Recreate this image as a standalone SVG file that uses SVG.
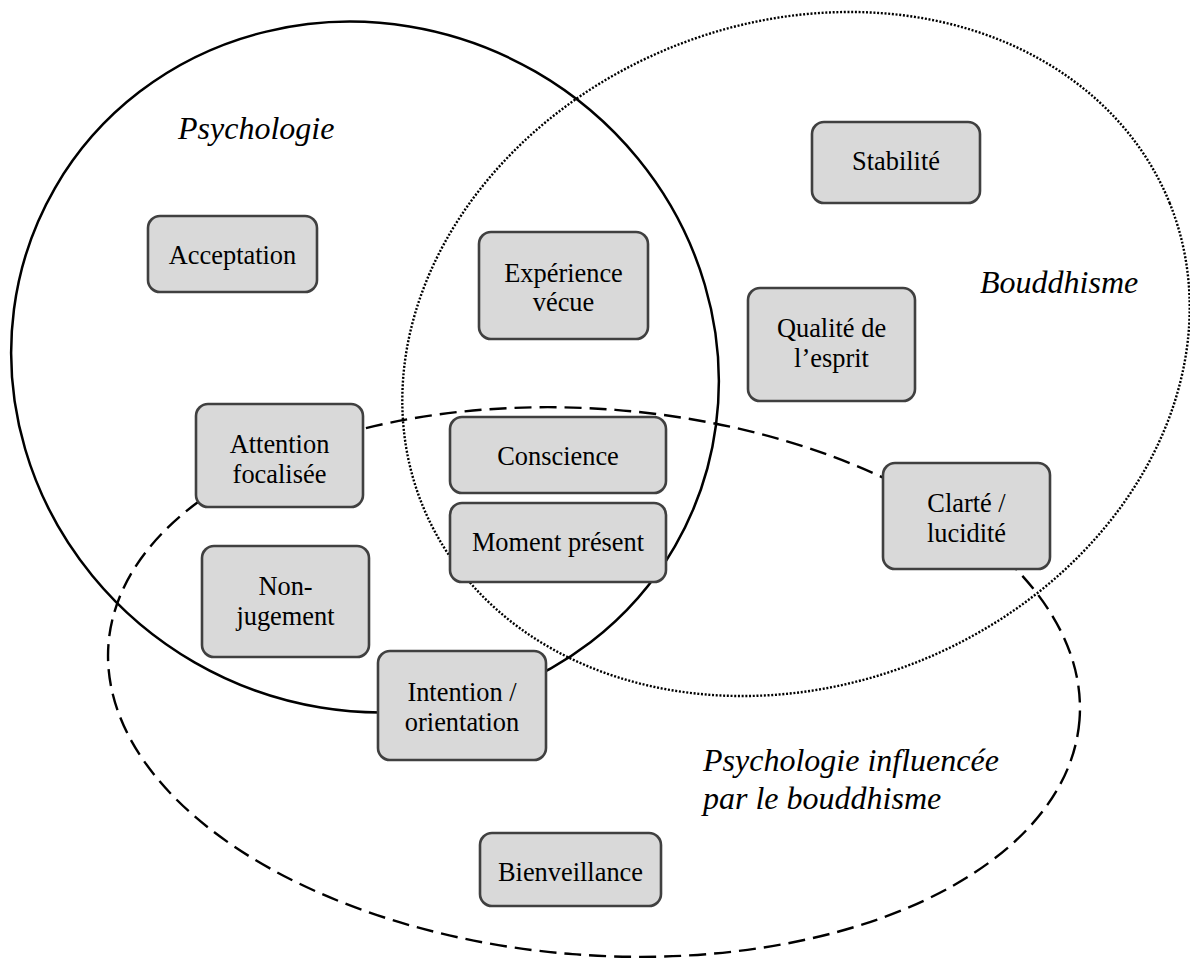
<svg xmlns="http://www.w3.org/2000/svg" width="1190" height="960" viewBox="0 0 1190 960">
<style>
.set{fill:none;stroke:#000}
.solid{stroke-width:2.5}
.dotted{stroke-width:2.4;stroke-dasharray:2 1.7}
.dashed{stroke-width:2.4;stroke-dasharray:17 8}
.box{fill:#d9d9d9;stroke:#404040;stroke-width:2.6}
.t{font-size:26.4px;fill:#000;text-anchor:middle}
.lbl{font-size:32px;font-style:italic;fill:#000}
</style>
<rect width="1190" height="960" fill="#fff"/>
<g id="sets">
<ellipse id="set-psychologie" class="set solid" cx="0" cy="0" rx="358" ry="341" transform="translate(365 367) rotate(30)"/>
<ellipse id="set-bouddhisme" class="set dotted" cx="0" cy="0" rx="403" ry="331" transform="translate(796 354) rotate(-22)"/>
<ellipse id="set-influencee" class="set dashed" cx="0" cy="0" rx="487" ry="273" transform="translate(594 682) rotate(4.5)"/>
</g>
<g id="connectors"></g>
<g font-family="'Liberation Serif', 'Times New Roman', 'DejaVu Serif', serif">
<g id="labels">
<text class="lbl" x="178" y="139">Psychologie</text>
<text class="lbl" x="980" y="293">Bouddhisme</text>
<text class="lbl" x="703" y="771">Psychologie influencée</text>
<text class="lbl" x="703" y="809">par le bouddhisme</text>
</g>
<g id="node-acceptation"><rect class="box" x="148" y="216" width="169" height="76" rx="12"/><text class="t" x="232.5" y="264">Acceptation</text></g>
<g id="node-experience"><rect class="box" x="479" y="232" width="169" height="107" rx="12"/><text class="t" x="563.5" y="282">Expérience</text><text class="t" x="563.5" y="311">vécue</text></g>
<g id="node-stabilite"><rect class="box" x="812" y="122" width="168" height="81" rx="12"/><text class="t" x="896" y="170">Stabilité</text></g>
<g id="node-qualite"><rect class="box" x="748" y="288" width="167" height="113" rx="12"/><text class="t" x="831.5" y="337">Qualité de</text><text class="t" x="831.5" y="367">l’esprit</text></g>
<g id="node-clarte"><rect class="box" x="883" y="463" width="167" height="106" rx="12"/><text class="t" x="966.5" y="512">Clarté /</text><text class="t" x="966.5" y="542">lucidité</text></g>
<g id="node-attention"><rect class="box" x="196" y="404" width="167" height="103" rx="12"/><text class="t" x="279.5" y="453">Attention</text><text class="t" x="279.5" y="483">focalisée</text></g>
<g id="node-nonjugement"><rect class="box" x="202" y="546" width="167" height="111" rx="12"/><text class="t" x="285.5" y="595">Non-</text><text class="t" x="285.5" y="625">jugement</text></g>
<g id="node-conscience"><rect class="box" x="450" y="417" width="216" height="76" rx="12"/><text class="t" x="558" y="465">Conscience</text></g>
<g id="node-moment"><rect class="box" x="450" y="503" width="216" height="79" rx="12"/><text class="t" x="558" y="551">Moment présent</text></g>
<g id="node-intention"><rect class="box" x="378" y="651" width="168" height="109" rx="12"/><text class="t" x="462" y="701">Intention /</text><text class="t" x="462" y="731">orientation</text></g>
<g id="node-bienveillance"><rect class="box" x="480" y="833" width="181" height="73" rx="12"/><text class="t" x="570.5" y="881">Bienveillance</text></g>
</g>
</svg>
